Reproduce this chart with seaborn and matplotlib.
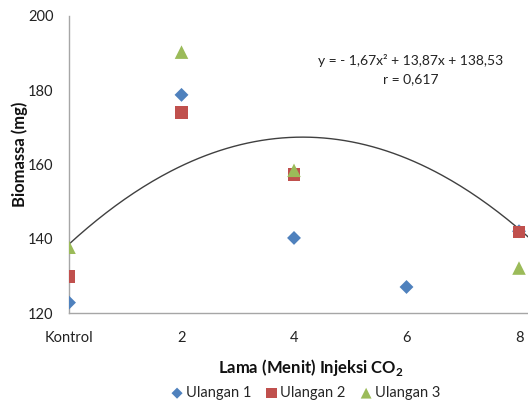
import numpy as np
import pandas as pd
import matplotlib
matplotlib.use("Agg")
import matplotlib.pyplot as plt
import seaborn as sns

# data
lama = [0, 2, 4, 6, 8]
tick_labels = ["Kontrol", "2", "4", "6", "8"]
ulangan1 = [122.8, 178.7, 140.2, 127.0, 142.0]
ulangan2 = [129.8, 174.0, 157.2, np.nan, 141.8]
ulangan3 = [137.7, 190.2, 158.4, np.nan, 132.1]
coef = [-1.67, 13.87, 138.53]   # y = a x^2 + b x + c
r_value = "0,617"

sns.set_style("white")
plt.rcParams["font.family"] = ["Lato", "DejaVu Sans"]
plt.rcParams["mathtext.fontset"] = "custom"
plt.rcParams["mathtext.bf"] = "Lato:bold"
plt.rcParams["mathtext.rm"] = "Lato"

df = pd.DataFrame({
    "x": lama * 3,
    "y": ulangan1 + ulangan2 + ulangan3,
    "seri": ["Ulangan 1"] * 5 + ["Ulangan 2"] * 5 + ["Ulangan 3"] * 5,
}).dropna()

fig = plt.figure(figsize=(5.28, 4.03), dpi=100)
ax = fig.add_axes([0.1307, 0.2233, 0.8693, 0.7377])

palette = {"Ulangan 1": "#4F81BD", "Ulangan 2": "#C0504D", "Ulangan 3": "#9BBB59"}
markers = {"Ulangan 1": "D", "Ulangan 2": "s", "Ulangan 3": "^"}
sizes = {"Ulangan 1": 50, "Ulangan 2": 85, "Ulangan 3": 95}
for name in ["Ulangan 1", "Ulangan 2", "Ulangan 3"]:
    sub = df[df["seri"] == name]
    sns.scatterplot(data=sub, x="x", y="y", color=palette[name], marker=markers[name],
                    s=sizes[name], edgecolor="none", ax=ax, label=name, zorder=3)

# polynomial trend line
xs = np.linspace(0, 8.2, 200)
trend = pd.DataFrame({"x": xs, "y": np.polyval(coef, xs)})
sns.lineplot(data=trend, x="x", y="y", color="#404040", lw=1.0, ax=ax, zorder=2)

ax.set_xlim(0, 8.16)
ax.set_ylim(120, 200)
ax.set_xticks(lama)
ax.set_xticklabels(tick_labels)
ax.set_yticks([120, 140, 160, 180, 200])
for s in ["top", "right"]:
    ax.spines[s].set_visible(False)
for s in ["left", "bottom"]:
    ax.spines[s].set_color("#a6a6a6")
    ax.spines[s].set_linewidth(1.0)
ax.tick_params(axis="both", direction="out", length=5, width=1, color="#a6a6a6",
               labelsize=10.5, labelcolor="#222222", pad=6)
ax.tick_params(axis="x", pad=8)

ax.set_xlabel("")
ax.set_ylabel("")
fig.text(311 / 528, 1 - 367 / 403, "Lama (Menit) Injeksi CO$_\\mathbf{2}$", fontsize=12,
         fontweight="bold", ha="center", va="center", color="#111111")
fig.text(20 / 528, 1 - 154 / 403, "Biomassa (mg)", fontsize=12, fontweight="bold",
         rotation=90, ha="center", va="center", color="#111111")

ax.text(0.745, 0.818, "y = - 1,67x\u00b2 + 13,87x + 138,53\nr = " + r_value,
        transform=ax.transAxes, ha="center", va="center", fontsize=10, linespacing=1.6,
        color="#222222")

handles, labels = ax.get_legend_handles_labels()
ax.legend_.remove()
fig.legend(handles[:3], labels[:3], loc="center", bbox_to_anchor=(305 / 528, 1 - 393 / 403),
           ncol=3, frameon=False, fontsize=10.5, handletextpad=0.1, columnspacing=0.9,
           markerscale=0.8, handlelength=1.0, borderaxespad=0, borderpad=0)

fig.savefig("out.png", dpi=100)
